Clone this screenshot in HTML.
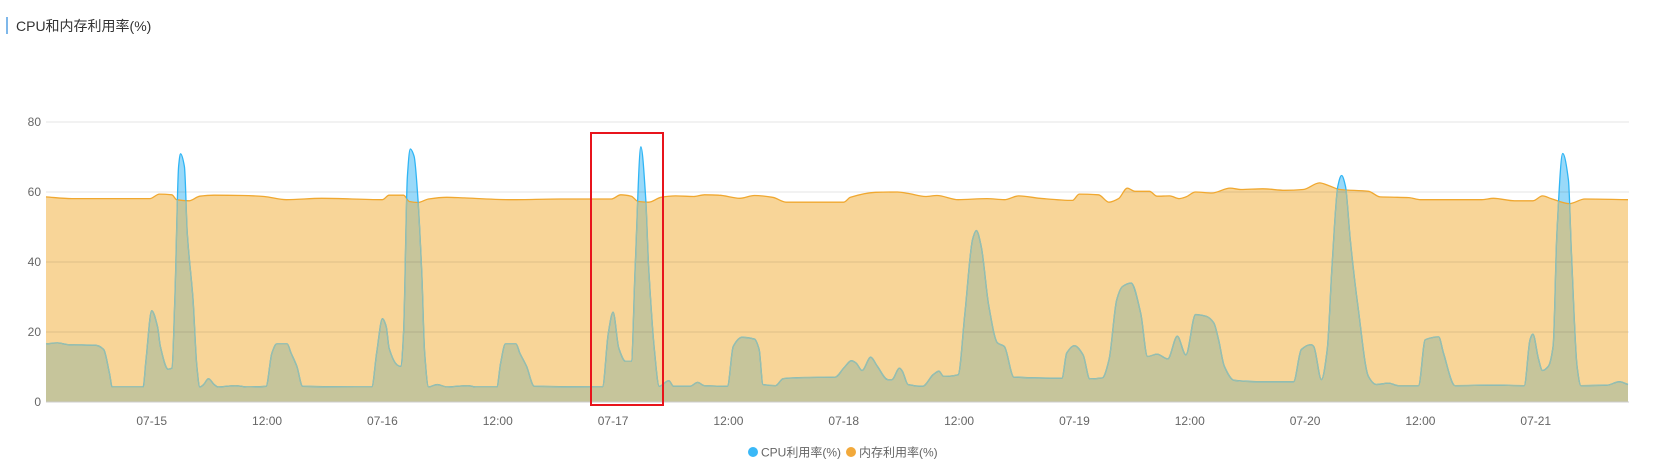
<!DOCTYPE html>
<html><head><meta charset="utf-8">
<style>
html,body{margin:0;padding:0;background:#fff;}
body{width:1653px;height:473px;overflow:hidden;position:relative;font-family:"Liberation Sans","Noto Sans CJK SC",sans-serif;}
#title{position:absolute;left:16px;top:17px;font-size:14px;color:#333;line-height:18px;}
#title-bar{position:absolute;left:6px;top:17px;width:2px;height:17px;background:#7fb8ea;}
svg{position:absolute;left:0;top:0;}
</style></head>
<body>
<div id="title-bar"></div>
<div id="title">CPU和内存利用率(%)</div>
<svg id="chart" width="1653" height="473"></svg>
<script>
const yTicks=[0,20,40,60,80];
const xTickLabels=["07-15","12:00","07-16","12:00","07-17","12:00","07-18","12:00","07-19","12:00","07-20","12:00","07-21"];
const xTickHours=[11,23,35,47,59,71,83,95,107,119,131,143,155];
const cpuHours=[0,1.2,2.3,5.2,6,6.6,6.9,10.1,10.4,11,11.6,11.9,12.7,13.1,13.4,13.8,14,14.4,14.7,15.3,15.7,16,16.4,16.9,17.5,17.9,19.7,20.9,22.9,23.5,24,25.1,25.5,26.1,26.7,32.4,33.9,34.4,35,35.4,35.7,36.5,36.9,37.2,37.6,37.9,38.3,38.7,39.1,39.4,39.8,40.7,41.7,43.9,44.7,46.9,47.3,47.8,48.9,49.3,50,50.8,
57.9,58.5,59,59.6,60.3,60.9,61.3,61.9,62.4,62.7,63.3,63.8,64.8,65.3,67,67.8,68.5,70.9,71.5,72.4,73.7,74.2,74.6,75.9,76.7,78.9,82.1,83,83.8,84.3,84.9,85.8,86.5,87.6,88,88.8,89.1,89.7,91.2,92.3,92.9,93.4,94.9,95.6,96.4,96.8,97.3,98.1,99,99.7,100.7,105.7,106.2,107,107.9,108.6,
109.9,110.6,111.4,112,112.9,113.9,114.6,115.6,116.7,117.7,118.6,119.6,120.7,121.5,122,122.6,123.6,125.9,129.8,130.6,131.6,131.9,132.7,133.3,133.8,134.4,134.8,135.2,135.7,136.5,137.6,138.4,139.7,140.7,142.8,143.5,144.9,145.4,146.6,150.6,153.8,154.4,154.7,155.3,155.7,156.3,156.8,157.2,157.8,158.4,158.7,159.3,159.7,162.4,163.7,164.6];
const cpuValues=[16.6,16.9,16.4,16.2,15,8.3,4.3,4.3,12.1,26.1,21.6,15.9,9.4,9.7,29.2,67.3,70.9,67.3,48.3,29.2,10.2,4.3,5,6.7,5,4.3,4.7,4.3,4.5,14,16.6,16.6,14,10.2,4.5,4.3,4.3,14,23.8,21.6,15.4,10.7,10.2,19.7,64.5,72.3,70.2,57.8,36.9,14,4.3,5,4.3,4.7,4.3,4.3,11.1,16.6,16.6,14,10.2,4.5,
4.3,19.7,25.7,15.4,11.6,11.6,38.8,72.9,57.8,38.8,15,4.5,6.1,4.5,4.5,5.6,4.7,4.5,15.9,18.5,18,15,5,4.7,6.7,7,7.1,9.7,11.8,11.1,9,12.8,10.2,6.4,6.4,9.7,8.8,5,4.5,7.8,8.8,7.3,7.8,25.4,46.4,49,44.5,27.3,16.9,15.9,7.1,6.8,14,16.1,13.5,6.6,
6.9,12.1,29.2,33,34,25.4,13,13.7,12.3,18.8,13.5,25,24.5,22.6,17.8,10.2,6.2,5.8,5.8,15,16.4,15.9,6.4,15,38.8,61.6,64.7,61.6,46.4,27.3,7.3,5,5.4,4.7,4.7,17.8,18.6,14,4.7,4.8,4.7,17.8,19.4,12.1,9,10.2,16,48.3,71,63.5,43.5,10.2,4.7,4.8,5.8,5];
const memHours=[0,2.7,10.8,11.8,13.1,13.6,14.9,16,17.5,20.5,22.7,25,28.7,35,35.7,37.2,37.8,38.7,39.8,41.7,43.5,48.4,53.5,
58.8,59.8,60.9,61.6,62.7,64,65.5,67.4,68.5,70,72.2,73.7,75.6,77,83,83.7,86.3,88.6,89.7,91.5,92.7,94.9,97.9,99.7,101.2,103.4,106.8,107.5,109.5,
110.6,111.6,112.5,113.3,114.8,115.6,116.9,117.9,118.6,119.6,121.3,123.2,124.3,126.6,128.9,130.8,132.5,133.5,134.6,137.6,138.8,141.8,143,149.4,150.6,152.8,154.7,155.7,156.6,158.5,160.1,164.6];
const memValues=[58.6,58.1,58.1,59.4,59.2,57.8,57.5,58.8,59.1,59,58.7,57.8,58.2,57.8,59.1,59.1,57.3,57,58,58.5,58.3,57.8,58,
58,59.2,58.8,57.3,57.1,58.5,58.9,58.7,59.2,59.1,58.2,59,58.5,57.1,57.1,58.5,59.9,60,59.6,58.7,59,57.8,58.1,57.8,58.9,58.2,57.6,59.4,59.2,
57.1,58.1,61.1,60.2,60.2,58.8,58.9,58.1,58.6,60,59.7,61.1,60.7,60.9,60.5,60.7,62.6,61.8,60.7,60.2,58.6,58.4,57.8,57.8,58.2,57.5,57.5,58.9,58.1,56.7,58,57.8];

const X0=46,X1=1629,H0=0,H1=164.7,Y0=402,Y80=122;
const xs=h=>X0+(h-H0)/(H1-H0)*(X1-X0);
const ys=v=>Y0-(v/80)*(Y0-Y80);
const NS="http://www.w3.org/2000/svg";
const svg=document.getElementById('chart');
function mk(t,a){const e=document.createElementNS(NS,t);for(const k in a)e.setAttribute(k,a[k]);return e;}
function monoPath(px,py){
  const n=px.length,d=[],m=[];
  for(let i=0;i<n-1;i++)d.push((py[i+1]-py[i])/(px[i+1]-px[i]));
  m[0]=d[0];m[n-1]=d[n-2];
  for(let i=1;i<n-1;i++){m[i]=(d[i-1]*d[i]<=0)?0:(2/(1/d[i-1]+1/d[i]));}
  let s="M"+px[0].toFixed(1)+","+py[0].toFixed(1);
  for(let i=0;i<n-1;i++){const h=(px[i+1]-px[i])/3;
    s+="C"+(px[i]+h).toFixed(1)+","+(py[i]+m[i]*h).toFixed(1)+" "+(px[i+1]-h).toFixed(1)+","+(py[i+1]-m[i+1]*h).toFixed(1)+" "+px[i+1].toFixed(1)+","+py[i+1].toFixed(1);}
  return s;
}
const cpx=cpuHours.map(xs),cpy=cpuValues.map(ys);
const mpx=memHours.map(xs),mpy=memValues.map(ys);
const cLine=monoPath(cpx,cpy),mLine=monoPath(mpx,mpy);
const cArea=cLine+"L"+cpx[cpx.length-1].toFixed(1)+","+Y0+"L"+cpx[0].toFixed(1)+","+Y0+"Z";
const mArea=mLine+"L"+mpx[mpx.length-1].toFixed(1)+","+Y0+"L"+mpx[0].toFixed(1)+","+Y0+"Z";

const defs=mk('defs',{});const cp=mk('clipPath',{id:'memclip'});cp.appendChild(mk('path',{d:mArea}));defs.appendChild(cp);svg.appendChild(defs);

const memFill=mk('path',{d:mArea,fill:'#f8d598'});


svg.appendChild(memFill);
const cpuFill=mk('path',{d:cArea,fill:'#99d9f9'});


svg.appendChild(cpuFill);
const overlap=mk('path',{d:cArea,fill:'#c6c59b','clip-path':'url(#memclip)'});


svg.appendChild(overlap);

yTicks.forEach(v=>{
  const g=mk('line',{x1:X0,x2:X1,y1:ys(v),y2:ys(v),stroke:v===0?'#cccccc':'rgba(0,0,0,0.1)','stroke-width':1});
  
  
  svg.appendChild(g);
  const t=mk('text',{x:X0-5,y:ys(v)+4,'text-anchor':'end','font-size':12,fill:'#666'});
  t.textContent=v;
  
  
  svg.appendChild(t);
});
const memL=mk('path',{d:mLine,fill:'none',stroke:'#f0a830','stroke-width':1.3});


svg.appendChild(memL);
const cpuL=mk('path',{d:cLine,fill:'none',stroke:'#2fb5f5','stroke-width':1.3});


svg.appendChild(cpuL);
const cpuL2=mk('path',{d:cLine,fill:'none',stroke:'#a0bea6','stroke-width':1.1,'clip-path':'url(#memclip)'});


svg.appendChild(cpuL2);

xTickLabels.forEach((l,i)=>{
  const t=mk('text',{x:xs(xTickHours[i]),y:425,'text-anchor':'middle','font-size':12,fill:'#666'});
  t.textContent=l;
  
  
  svg.appendChild(t);
});

const box=mk('rect',{x:591,y:133,width:72,height:272,fill:'none',stroke:'#e8141c','stroke-width':2});


svg.appendChild(box);

const lg=mk('g',{});


svg.appendChild(lg);
const e1=mk('g',{});


e1.appendChild(mk('circle',{cx:753,cy:452,r:5,fill:'#3ab8f7'}));
const t1=mk('text',{x:761,y:456.5,'font-size':12,fill:'#666'});t1.textContent='CPU利用率(%)';e1.appendChild(t1);
lg.appendChild(e1);
const e2=mk('g',{});


e2.appendChild(mk('circle',{cx:851,cy:452,r:5,fill:'#f2a93b'}));
const t2=mk('text',{x:859,y:456.5,'font-size':12,fill:'#666'});t2.textContent='内存利用率(%)';e2.appendChild(t2);
lg.appendChild(e2);
</script>
</body></html>
